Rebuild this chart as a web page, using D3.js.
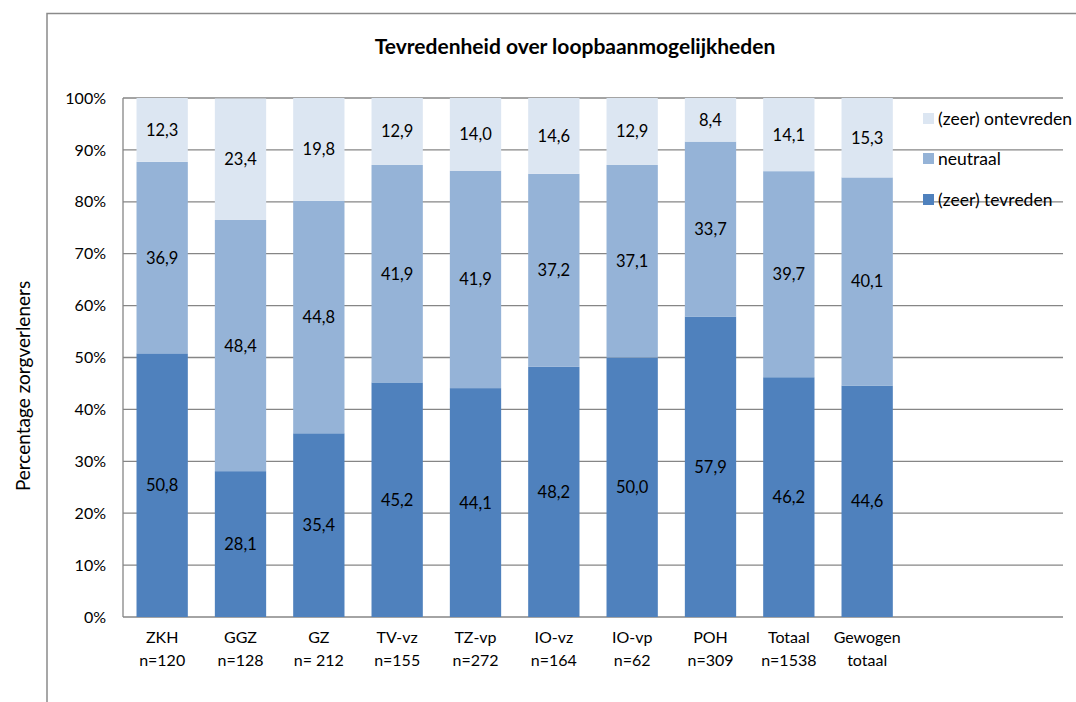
<!DOCTYPE html>
<html>
<head>
<meta charset="utf-8">
<script src="https://cdn.jsdelivr.net/npm/d3@7"></script>
<style>
  body { margin: 0; background: #fff; }
  svg text { font-family: Lato, "Liberation Sans", sans-serif; fill: #000; }
</style>
</head>
<body>
<main></main>
<script>
const categories = ['ZKH', 'GGZ', 'GZ', 'TV-vz', 'TZ-vp', 'IO-vz', 'IO-vp', 'POH', 'Totaal', 'Gewogen'];
const subLabels = ['n=120', 'n=128', 'n= 212', 'n=155', 'n=272', 'n=164', 'n=62', 'n=309', 'n=1538', 'totaal'];
const tevreden = [50.8, 28.1, 35.4, 45.2, 44.1, 48.2, 50.0, 57.9, 46.2, 44.6];
const neutraal = [36.9, 48.4, 44.8, 41.9, 41.9, 37.2, 37.1, 33.7, 39.7, 40.1];
const ontevreden = [12.3, 23.4, 19.8, 12.9, 14.0, 14.6, 12.9, 8.4, 14.1, 15.3];
const seriesNames = ['(zeer) tevreden', 'neutraal', '(zeer) ontevreden'];
const seriesColors = ['#4f81bd', '#95b3d7', '#dce6f2'];
const yTicks = d3.range(0, 101, 10);

const w = 1076, h = 702;
const svg = d3.select('main').append('svg').attr('width', w).attr('height', h);

// outer frame (runs off right/bottom edge)
svg.append('rect')
    .attr('x', 47).attr('y', 13.5)
    .attr('width', 1100).attr('height', 800)
    .attr('fill', 'none').attr('stroke', '#8a8a8a').attr('stroke-width', 1.5);

const pLeft = 123, pRight = 1063, pTop = 98, pBottom = 617;
const step = (pRight - pLeft) / 12;

const y = d3.scaleLinear().domain([0, 100]).range([pBottom, pTop]);
const x = d3.scaleBand().domain(categories)
    .range([pLeft, pLeft + step * categories.length])
    .paddingInner(0.345).paddingOuter(0.1725);

// gridlines
svg.append('g').selectAll('line').data(yTicks).enter().append('line')
    .attr('x1', pLeft).attr('x2', pRight)
    .attr('y1', d => y(d)).attr('y2', d => y(d))
    .attr('stroke', '#868686').attr('stroke-width', 1.3);

svg.append('line')
    .attr('x1', pLeft).attr('x2', pLeft).attr('y1', pTop).attr('y2', pBottom)
    .attr('stroke', '#868686').attr('stroke-width', 1.3);

// y tick labels
const yAxis = d3.axisLeft(y).tickValues(yTicks).tickFormat(d => d + '%').tickSize(0).tickPadding(17);
const ya = svg.append('g').attr('transform', `translate(${pLeft},0)`).call(yAxis);
ya.select('.domain').remove();
ya.selectAll('text').style('font-size', '16px').style('font-family', 'Lato, sans-serif');

// stacked bars
const rows = categories.map((c, i) => ({ cat: c, s0: tevreden[i], s1: neutraal[i], s2: ontevreden[i] }));
const stack = d3.stack().keys(['s0', 's1', 's2'])(rows);

const layers = svg.append('g').selectAll('g').data(stack).enter().append('g')
    .attr('fill', (d, i) => seriesColors[i]);

layers.selectAll('rect').data(d => d).enter().append('rect')
    .attr('x', d => x(d.data.cat))
    .attr('width', x.bandwidth())
    .attr('y', d => y(d[1]))
    .attr('height', d => y(d[0]) - y(d[1]));

layers.selectAll('text').data(d => d).enter().append('text')
    .attr('x', d => x(d.data.cat) + x.bandwidth() / 2)
    .attr('y', d => (y(d[0]) + y(d[1])) / 2 + 6)
    .attr('text-anchor', 'middle')
    .style('font-size', '16.5px')
    .text(d => (d[1] - d[0]).toFixed(1).replace('.', ','));

// category labels
const xl = svg.append('g');
xl.selectAll('text.l1').data(categories).enter().append('text')
    .attr('x', d => x(d) + x.bandwidth() / 2).attr('y', 643)
    .attr('text-anchor', 'middle').style('font-size', '16px').text(d => d);
xl.selectAll('text.l2').data(subLabels).enter().append('text')
    .attr('x', (d, i) => x(categories[i]) + x.bandwidth() / 2).attr('y', 666)
    .attr('text-anchor', 'middle').style('font-size', '16px').text(d => d);

// title
svg.append('text').attr('x', 575).attr('y', 54)
    .attr('text-anchor', 'middle').style('font-size', '21px').style('font-weight', 'bold')
    .text('Tevredenheid over loopbaanmogelijkheden');

// y axis title
svg.append('text')
    .attr('transform', 'translate(30,386) rotate(-90)')
    .attr('text-anchor', 'middle').style('font-size', '19px')
    .text('Percentage zorgverleners');

// legend
const legendY = [199.5, 158.5, 118.5];
const lg = svg.append('g').selectAll('g').data(seriesNames).enter().append('g')
    .attr('transform', (d, i) => `translate(923,${legendY[i]})`);
lg.append('rect').attr('x', 0).attr('y', -5.5).attr('width', 11).attr('height', 11)
    .attr('fill', (d, i) => seriesColors[i]);
lg.append('text').attr('x', 15).attr('y', 6).style('font-size', '17.5px').text(d => d);
</script>
</body>
</html>
